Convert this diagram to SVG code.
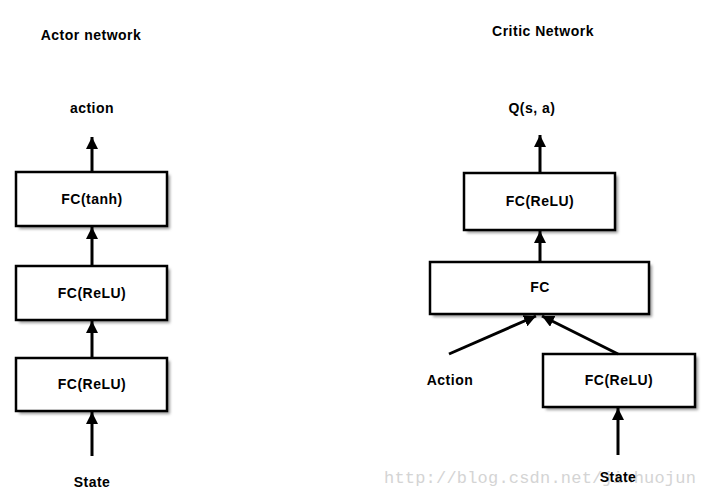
<svg xmlns="http://www.w3.org/2000/svg" width="705" height="495" viewBox="0 0 705 495">
<style>
text{font-family:"Liberation Sans",Arial,sans-serif;font-weight:bold;font-size:14px;letter-spacing:0.5px;fill:#000;text-anchor:middle}
.box{fill:#fff;stroke:#000;stroke-width:2.5}
.sh{fill:#999;filter:url(#blur)}
.ln{stroke:#000;stroke-width:3;fill:none;marker-end:url(#ah)}
.wm{font-family:"Liberation Mono","Courier New",monospace;font-weight:normal;font-size:17px;letter-spacing:0.2px;fill:#d4d4d4;text-anchor:start}
</style>
<defs>
<filter id="blur" x="-10%" y="-10%" width="130%" height="140%"><feGaussianBlur stdDeviation="1.5"/></filter>
<marker id="ah" markerUnits="userSpaceOnUse" viewBox="0 0 12 12" refX="12" refY="6" markerWidth="12" markerHeight="12" orient="auto"><path d="M0,0 L12,6 L0,12 Z" fill="#000"/></marker>
</defs>
<rect width="705" height="495" fill="#fff"/>
<text class="wm" x="384" y="483">http://blog.csdn.net/jinhuojun</text>
<text x="91" y="40">Actor network</text>
<text x="543" y="36">Critic Network</text>
<text x="92" y="113">action</text>
<text x="92" y="487">State</text>
<text x="532" y="113">Q(s, a)</text>
<text x="450" y="385">Action</text>
<text x="618" y="482">State</text>
<g id="actor-fc-tanh"><rect class="sh" x="19" y="175" width="151" height="54"/><rect class="box" x="16" y="172" width="151" height="54"/><text x="92" y="204">FC(tanh)</text></g>
<g id="actor-fc-relu-2"><rect class="sh" x="19" y="269" width="151" height="54"/><rect class="box" x="16" y="266" width="151" height="54"/><text x="92" y="298">FC(ReLU)</text></g>
<g id="actor-fc-relu-1"><rect class="sh" x="19" y="361" width="151" height="53"/><rect class="box" x="16" y="358" width="151" height="53"/><text x="92" y="389">FC(ReLU)</text></g>
<g id="critic-fc-relu-top"><rect class="sh" x="467" y="176" width="151" height="57"/><rect class="box" x="464" y="173" width="151" height="57"/><text x="540" y="206">FC(ReLU)</text></g>
<g id="critic-fc"><rect class="sh" x="433" y="265" width="219" height="52"/><rect class="box" x="430" y="262" width="219" height="52"/><text x="540" y="292">FC</text></g>
<g id="critic-fc-relu-state"><rect class="sh" x="546" y="357" width="152" height="53"/><rect class="box" x="543" y="354" width="152" height="53"/><text x="619" y="385">FC(ReLU)</text></g>
<g id="connectors">
<line class="ln" x1="92" y1="172" x2="92" y2="137"/>
<line class="ln" x1="92" y1="266" x2="92" y2="227"/>
<line class="ln" x1="92" y1="358" x2="92" y2="321"/>
<line class="ln" x1="92" y1="456" x2="92" y2="412"/>
<line class="ln" x1="540" y1="173" x2="540" y2="135"/>
<line class="ln" x1="540" y1="262" x2="540" y2="231"/>
<line class="ln" x1="449" y1="354" x2="536" y2="316"/>
<line class="ln" x1="618" y1="354" x2="542" y2="316"/>
<line class="ln" x1="618" y1="455" x2="618" y2="408"/>
</g>
</svg>
